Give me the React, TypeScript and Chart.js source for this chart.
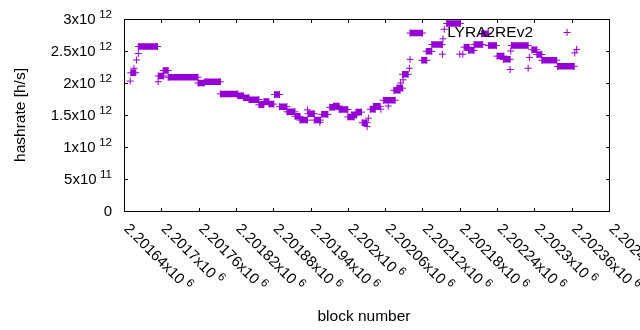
import { useEffect, useRef } from 'react';
import { Chart, registerables } from 'chart.js';

Chart.register(...registerables);

// Runs of blocks sharing the same hashrate estimate (start == end for a single block)
const runStart = [
  2201590, 2201591, 2201596, 2201600, 2201603, 2201603, 2201635, 2201635, 2201643, 2201651,
  2201699, 2201710, 2201735, 2201763, 2201772, 2201781, 2201797, 2201805, 2201813, 2201822,
  2201830, 2201842, 2201855, 2201863, 2201875, 2201876, 2201886, 2201895, 2201898, 2201911,
  2201917, 2201926, 2201940, 2201946, 2201953, 2201963, 2201971, 2201973, 2201976, 2201981,
  2201993, 2201997, 2202005, 2202014, 2202019, 2202025, 2202029, 2202028, 2202039, 2202040,
  2202040, 2202059, 2202066, 2202075, 2202092, 2202093, 2202095, 2202099, 2202120, 2202125,
  2202127, 2202134, 2202143, 2202155, 2202166, 2202180, 2202190, 2202201, 2202202, 2202203,
  2202230, 2202232, 2202236, 2202244, 2202252, 2202277, 2202305, 2202308,
];
const runEnd = [
  2201590, 2201599, 2201596, 2201600, 2201603, 2201634, 2201635, 2201644, 2201651, 2201699,
  2201709, 2201735, 2201763, 2201772, 2201781, 2201797, 2201805, 2201813, 2201821, 2201830,
  2201842, 2201855, 2201863, 2201875, 2201875, 2201886, 2201896, 2201895, 2201908, 2201919,
  2201926, 2201940, 2201950, 2201954, 2201962, 2201971, 2201971, 2201973, 2201984, 2201992,
  2201993, 2202016, 2202005, 2202024, 2202028, 2202025, 2202029, 2202037, 2202039, 2202040,
  2202060, 2202067, 2202075, 2202092, 2202092, 2202093, 2202095, 2202121, 2202120, 2202125,
  2202135, 2202143, 2202157, 2202166, 2202179, 2202191, 2202201, 2202201, 2202202, 2202230,
  2202230, 2202232, 2202244, 2202252, 2202276, 2202304, 2202305, 2202308,
];
const runRate = [
  2.03e12, 2.16e12, 2.23e12, 2.36e12, 2.46e12, 2.57e12, 2.02e12, 2.11e12, 2.195e12, 2.09e12,
  2.0e12, 2.02e12, 1.83e12, 1.8e12, 1.77e12, 1.74e12, 1.66e12, 1.71e12, 1.67e12, 1.82e12,
  1.63e12, 1.55e12, 1.48e12, 1.42e12, 1.58e12, 1.52e12, 1.42e12, 1.385e12, 1.51e12, 1.62e12,
  1.64e12, 1.585e12, 1.47e12, 1.5e12, 1.545e12, 1.38e12, 1.32e12, 1.45e12, 1.59e12, 1.635e12,
  1.59e12, 1.73e12, 1.64e12, 1.885e12, 1.92e12, 2.0e12, 2.05e12, 2.135e12, 2.23e12, 2.37e12,
  2.78e12, 2.355e12, 2.495e12, 2.6e12, 2.45e12, 2.69e12, 2.84e12, 2.93e12, 2.45e12, 2.45e12,
  2.56e12, 2.51e12, 2.6e12, 2.77e12, 2.585e12, 2.42e12, 2.37e12, 2.21e12, 2.5e12, 2.585e12,
  2.23e12, 2.4e12, 2.52e12, 2.445e12, 2.355e12, 2.26e12, 2.47e12, 2.525e12,
];

const xTickValues = [
  2201640, 2201700, 2201760, 2201820, 2201880, 2201940, 2202000, 2202060, 2202120, 2202180,
  2202240, 2202300, 2202360, 2202420,
];
const xTickLabels = [
  '2.20164x10^6', '2.2017x10^6', '2.20176x10^6', '2.20182x10^6', '2.20188x10^6', '2.20194x10^6',
  '2.202x10^6', '2.20206x10^6', '2.20212x10^6', '2.20218x10^6', '2.20224x10^6', '2.2023x10^6',
  '2.20236x10^6', '2.20242x10^6',
];
const yTickValues = [0, 5e11, 1e12, 1.5e12, 2e12, 2.5e12, 3e12];
const yTickLabels = ['0', '5x10^11', '1x10^12', '1.5x10^12', '2x10^12', '2.5x10^12', '3x10^12'];

const seriesName = 'LYRA2REv2';
const xTitle = 'block number';
const yTitle = 'hashrate [h/s]';
const COLOR = '#9400d3';
const FONT = '"Liberation Sans", Arial, sans-serif';

function drawSup(ctx: CanvasRenderingContext2D, text: string, x: number, y: number, align: 'left' | 'right') {
  const [base, sup] = text.split('^');
  ctx.font = `15px ${FONT}`;
  const wb = ctx.measureText(base).width;
  let ws = 0;
  if (sup) {
    ctx.font = `11.5px ${FONT}`;
    ws = ctx.measureText(sup).width;
  }
  const gap = sup ? 3.5 : 0;
  const total = wb + gap + ws;
  const x0 = align === 'right' ? x - total : x;
  ctx.textAlign = 'left';
  ctx.textBaseline = 'alphabetic';
  ctx.font = `15px ${FONT}`;
  ctx.fillText(base, x0, y);
  if (sup) {
    ctx.font = `11.5px ${FONT}`;
    ctx.fillText(sup, x0 + wb + gap, y - 6);
  }
}

const framePlugin = {
  id: 'frame',
  beforeDatasetsDraw(chart: any) {
    const { ctx, chartArea: a, scales } = chart;
    const xs = scales.x;
    const ys = scales.y;
    const L = Math.round(a.left), R = Math.round(a.right), T = Math.round(a.top), B = Math.round(a.bottom);
    ctx.save();
    ctx.strokeStyle = '#000';
    ctx.lineWidth = 1;
    ctx.strokeRect(L + 0.5, T + 0.5, R - L, B - T);
    ctx.beginPath();
    const tl = 4;
    yTickValues.forEach((v) => {
      const p = Math.round(ys.getPixelForValue(v)) + 0.5;
      ctx.moveTo(L, p); ctx.lineTo(L + tl, p);
      ctx.moveTo(R + 1, p); ctx.lineTo(R + 1 - tl, p);
    });
    xTickValues.forEach((v) => {
      if (v < xs.min || v > xs.max) return;
      const p = Math.round(xs.getPixelForValue(v)) + 0.5;
      ctx.moveTo(p, B + 1); ctx.lineTo(p, B + 1 - tl);
      ctx.moveTo(p, T); ctx.lineTo(p, T + tl);
    });
    ctx.stroke();

    ctx.fillStyle = '#000';
    yTickValues.forEach((v, i) => {
      const p = ys.getPixelForValue(v);
      drawSup(ctx, yTickLabels[i], 112, p + 5.3, 'right');
    });
    xTickValues.forEach((v, i) => {
      const p = xs.getPixelForValue(v);
      ctx.save();
      ctx.translate(p - 38, 229.5);
      ctx.rotate(Math.PI / 4);
      drawSup(ctx, xTickLabels[i], 0, 0, 'left');
      ctx.restore();
    });

    ctx.font = `15.5px ${FONT}`;
    ctx.textAlign = 'center';
    ctx.textBaseline = 'alphabetic';
    ctx.fillText(xTitle, 364, 321);
    ctx.save();
    ctx.translate(25, 115);
    ctx.rotate(-Math.PI / 2);
    ctx.fillText(yTitle, 0, 0);
    ctx.restore();
    ctx.restore();
  },
  afterDatasetsDraw(chart: any) {
    const { ctx } = chart;
    ctx.save();
    ctx.fillStyle = '#000';
    ctx.font = `15.5px ${FONT}`;
    ctx.textAlign = 'right';
    ctx.textBaseline = 'alphabetic';
    ctx.fillText(seriesName, 533, 36.5);
    ctx.strokeStyle = COLOR;
    ctx.lineWidth = 1;
    ctx.beginPath();
    ctx.moveTo(563.5, 32.5); ctx.lineTo(570.5, 32.5);
    ctx.moveTo(567, 29); ctx.lineTo(567, 36);
    ctx.stroke();
    ctx.restore();
  },
};

export default function App() {
  const ref = useRef<HTMLCanvasElement | null>(null);
  useEffect(() => {
    document.body.style.margin = '0';
    const pts: { x: number; y: number | null }[] = [];
    for (let i = 0; i < runStart.length; i++) {
      pts.push({ x: runStart[i], y: runRate[i] });
      if (runEnd[i] !== runStart[i]) pts.push({ x: runEnd[i], y: runRate[i] });
      pts.push({ x: runEnd[i], y: null });
    }
    const chart = new Chart(ref.current as HTMLCanvasElement, {
      type: 'line',
      data: {
        datasets: [
          {
            label: seriesName,
            data: pts as any,
            borderColor: COLOR,
            backgroundColor: COLOR,
            borderWidth: 6.5,
            borderCapStyle: 'butt',
            spanGaps: false,
            tension: 0,
            pointStyle: 'cross',
            pointRadius: 3.5,
            pointBorderWidth: 1,
            pointBorderColor: COLOR,
            pointBackgroundColor: COLOR,
            fill: false,
          },
        ],
      },
      options: {
        animation: false,
        responsive: false,
        devicePixelRatio: 1,
        events: [],
        layout: { padding: { left: 124, right: 31, top: 19, bottom: 119 } },
        plugins: { legend: { display: false }, tooltip: { enabled: false } },
        scales: {
          x: { type: 'linear', min: 2201580, max: 2202360, display: false },
          y: { type: 'linear', min: 0, max: 3e12, display: false },
        },
      },
      plugins: [framePlugin],
    });
    return () => chart.destroy();
  }, []);
  return (
    <div style={{ width: 640, height: 330, background: '#fff' }}>
      <canvas ref={ref} width={640} height={330} style={{ display: 'block' }} />
    </div>
  );
}
